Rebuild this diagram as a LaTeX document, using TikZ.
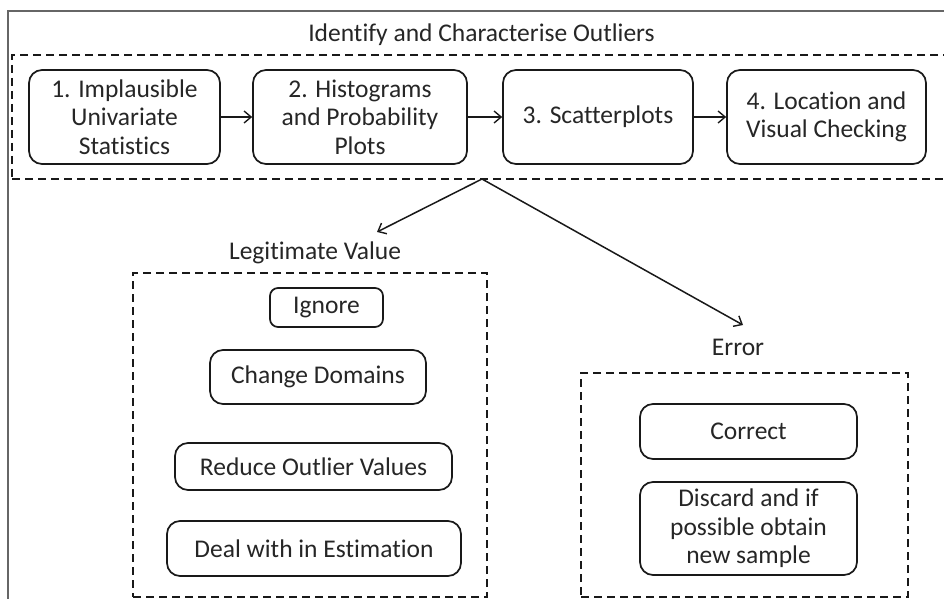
\documentclass[tikz,border=0pt]{standalone}
\usepackage{fontspec}
\setmainfont{Carlito}[Ligatures=NoCommon]
\usetikzlibrary{arrows.meta}
\begin{document}
\begin{tikzpicture}[x=1pt,y=-1pt,
  txt/.style={font=\fontsize{25.5}{28.5}\selectfont, text=black!85, align=center, inner sep=0pt},
  box/.style={txt, draw=black!90, line width=1.7pt, rounded corners=13pt},
  smallbox/.style={box, rounded corners=8pt},
  group/.style={draw=black!90, line width=1.8pt, dash pattern=on 8pt off 5pt, inner sep=0pt},
  frame/.style={draw=black!60, line width=1.2pt},
  arr/.style={-{Straight Barb[length=7pt,width=12pt,line width=1.4pt]}, line width=1.5pt, black!90}]
\useasboundingbox (0,0) rectangle (944,599);
\clip (0,0) rectangle (944,599);
\fill[white] (0,0) rectangle (944,599);
% outer frame
\draw[frame] (8,11) rectangle (970,620);
% top group
\node[txt] (title) at (481.5,35) {Identify and Characterise Outliers};
\node[group, minimum width=960pt, minimum height=124pt] (top) at (492,117) {};
\node[box, minimum width=191pt, minimum height=94pt] (b1) at (124.5,117) {1. Implausible\\Univariate\\Statistics};
\node[box, minimum width=214pt, minimum height=94pt] (b2) at (360,117) {2. Histograms\\and Probability\\Plots};
\node[box, minimum width=190pt, minimum height=94pt] (b3) at (598,117) {3. Scatterplots};
\node[box, minimum width=199pt, minimum height=94pt] (b4) at (826.5,117) {4. Location and\\Visual Checking};
\draw[arr] (b1) -- (b2);
\draw[arr] (b2) -- (b3);
\draw[arr] (b3) -- (b4);
% split arrows
\coordinate (split) at (482,179);
\coordinate (legitend) at (377,232);
\coordinate (errend) at (743,325);
\draw[arr] (split) -- (legitend);
\draw[arr] (split) -- (errend);
% legitimate value group
\node[txt] (legit) at (315,253) {Legitimate Value};
\node[group, minimum width=354pt, minimum height=324pt] (lgroup) at (310,435) {};
\node[smallbox, minimum width=113pt, minimum height=39pt] (ignore) at (326.5,307.5) {Ignore};
\node[box, minimum width=216pt, minimum height=54pt] (change) at (318,377) {Change Domains};
\node[box, minimum width=277pt, minimum height=47pt] (reduce) at (313.5,466.5) {Reduce Outlier Values};
\node[box, minimum width=294pt, minimum height=55pt] (deal) at (314,548.5) {Deal with in Estimation};
% error group
\node[txt] (err) at (738,347) {Error};
\node[group, minimum width=327pt, minimum height=224pt] (egroup) at (744.5,485) {};
\node[box, minimum width=217pt, minimum height=55pt] (correct) at (748.5,431.5) {Correct};
\node[box, minimum width=217pt, minimum height=93pt] (discard) at (748.5,528.5) {Discard and if\\possible obtain\\new sample};
\end{tikzpicture}
\end{document}
